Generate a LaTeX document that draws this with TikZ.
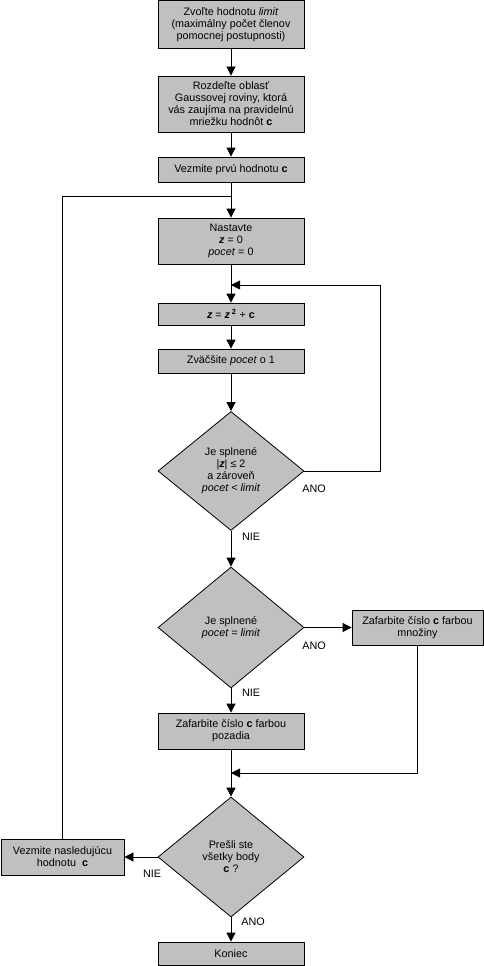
\documentclass[tikz,border=0pt]{standalone}
\usepackage{fontspec}
\setmainfont{Liberation Sans}
\usepackage{xcolor}
\usetikzlibrary{shapes.geometric, arrows.meta, positioning, calc}
\definecolor{boxgray}{RGB}{192,192,192}
\newcommand{\zz}{\textbf{\textit{z}}}
\newcommand{\cc}{\textbf{c}}

\begin{document}
\begin{tikzpicture}[
    x=1pt, y=-1pt,
    font=\fontsize{10.8}{12}\selectfont,
    box/.style={draw, fill=boxgray, line width=0.8pt, minimum width=146pt, inner sep=1pt, align=center},
    decision/.style={draw, diamond, fill=boxgray, line width=0.8pt, minimum width=146pt, minimum height=120pt, inner sep=0pt, align=center},
    arr/.style={line width=0.8pt, -{Triangle[width=9pt,length=9pt]}},
    link/.style={line width=0.8pt},
    lbl/.style={inner sep=0pt},
]
    \useasboundingbox (0,0) rectangle (484,966);

    \node[box, minimum height=48pt] (limit) at (231,24.5) {Zvoľte hodnotu \textit{limit}\\(maximálny počet členov\\pomocnej postupnosti)};
    \node[box, minimum height=56pt] (grid) at (231,104) {Rozdeľte oblasť\\Gaussovej roviny, ktorá\\vás zaujíma na pravidelnú\\mriežku hodnôt \cc};
    \node[box, minimum height=25pt] (first) at (231,169.5) {Vezmite prvú hodnotu \cc};
    \node[box, minimum height=46pt] (init) at (231,241) {Nastavte\\\zz{} = 0\\\textit{pocet} = 0};
    \node[box, minimum height=22pt] (iter) at (231,314) {\zz{} = \zz\,\textsuperscript{\textbf{2}} + \cc};
    \node[box, minimum height=24pt] (incr) at (231,361) {Zväčšite \textit{pocet} o 1};
    \node[decision, minimum height=119pt] (test) at (231,471) {Je splnené\\|\zz| ≤ 2\\a zároveň\\\textit{pocet < limit}};
    \node[decision, minimum height=121pt] (inset) at (231,627.5) {Je splnené\\\textit{pocet = limit}};
    \node[box, minimum width=131pt, minimum height=35pt] (setcol) at (417.5,627.5) {Zafarbite číslo \cc{} farbou\\množiny};
    \node[box, minimum height=36pt] (bgcol) at (231,731) {Zafarbite číslo \cc{} farbou\\pozadia};
    \node[decision] (alldone) at (231,857) {Prešli ste\\všetky body\\\cc{} ?};
    \node[box, minimum width=123pt, minimum height=36pt] (next) at (62.5,857) {Vezmite nasledujúcu\\hodnotu~ \cc};
    \node[box, minimum height=23pt] (stop) at (231,953.5) {Koniec};

    \coordinate (outer) at (231,196);
    \coordinate (inner) at (231,285);
    \coordinate (loopr) at (380,285);
    \coordinate (merge) at (231,773);

    \draw[arr] (limit) -- (grid);
    \draw[arr] (grid) -- (first);
    \draw[arr] (first) -- (init);
    \draw[arr] (init) -- (iter);
    \draw[arr] (iter) -- (incr);
    \draw[arr] (incr) -- (test);
    \draw[arr] (test.east) -| (loopr) -- (inner);
    \draw[arr] (test) -- (inset);
    \draw[arr] (inset.east) -- (setcol.west);
    \draw[arr] (inset) -- (bgcol);
    \draw[arr] (bgcol) -- (alldone);
    \draw[arr] (setcol.south) |- (merge);
    \draw[arr] (alldone) -- (next);
    \draw[arr] (alldone) -- (stop);
    \draw[link] (next.north) |- (outer);

    \node[lbl] (yes1) at (314,489) {ANO};
    \node[lbl] (no1) at (251,537) {NIE};
    \node[lbl] (yes2) at (314,646) {ANO};
    \node[lbl] (no2) at (251,693) {NIE};
    \node[lbl] (no3) at (152,874) {NIE};
    \node[lbl] (yes3) at (253,922) {ANO};
\end{tikzpicture}
\end{document}
